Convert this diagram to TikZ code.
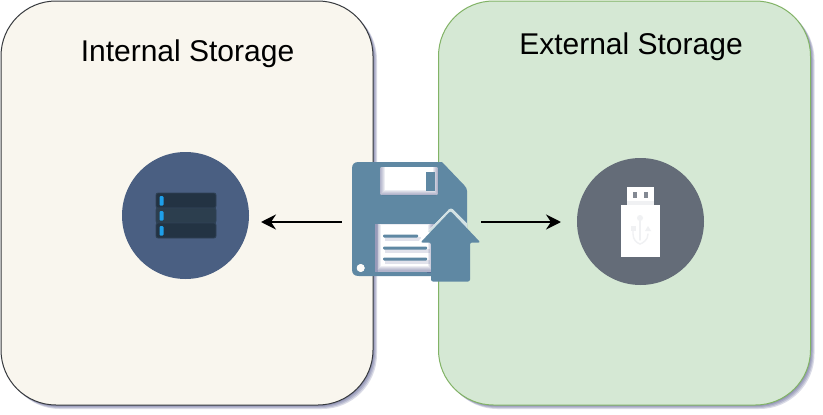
\documentclass[tikz,border=0pt]{standalone}
\usepackage{fontspec}
\setmainfont{Liberation Sans}
\usetikzlibrary{arrows.meta}
\definecolor{creamfill}{HTML}{F9F6EE}
\definecolor{creamline}{HTML}{36393D}
\definecolor{greenfill}{HTML}{D5E8D4}
\definecolor{greenline}{HTML}{82B366}
\definecolor{floppyblue}{HTML}{5F88A3}
\definecolor{halo}{HTML}{D3E2E4}
\definecolor{shadowtint}{HTML}{4A4F86}
\definecolor{servercircle}{HTML}{4A5F82}
\definecolor{usbcircle}{HTML}{646C78}
\definecolor{rackdark}{HTML}{233343}
\definecolor{rackmid}{HTML}{2C3E4E}
\definecolor{rackedge}{HTML}{2F4155}
\definecolor{ledblue}{HTML}{1E9FEA}
\definecolor{usbghost}{HTML}{F0F1F3}
\tikzset{
  panel/.style={rectangle,rounded corners=55pt,inner sep=0pt,minimum width=372pt,minimum height=404pt,line width=1pt},
  panelshadow/.style={rectangle,rounded corners=55pt,inner sep=0pt,minimum width=372pt,minimum height=404pt,fill=shadowtint,fill opacity=0.2},
  paneltitle/.style={font=\fontsize{30}{34}\selectfont,text=black,inner sep=0pt},
  iconcircle/.style={circle,inner sep=0pt,minimum size=127pt},
  connector/.style={line width=2.4pt,black,-{Stealth[length=15pt,width=15pt,inset=5pt]}},
  holeshade/.style={draw=shadowtint,draw opacity=0.1,fill=none},
  rackrow/.style={rounded corners=2pt,draw=rackedge,line width=0.8pt},
  usbline/.style={draw=usbghost,line width=1.4pt,line cap=round},
}
\newcommand{\floppyoutline}{
  (359,162) -- (442,162) -- (464,185)
  .. controls (466,187) and (467,189) .. (467,191) -- (467,269)
  .. controls (467,274) and (465,276) .. (460,276) -- (359,276)
  .. controls (354,276) and (352,274) .. (352,269) -- (352,169)
  .. controls (352,164) and (354,162) .. (359,162) -- cycle
}
\newcommand{\windowhole}{(380,167) [rounded corners=2pt] rectangle (438,195)}
\newcommand{\paperhole}{(375,224) rectangle (434,272)}
\begin{document}
\begin{tikzpicture}[x=1pt,y=-1pt]
\useasboundingbox (0,0) rectangle (823,415);
\fill[white] (0,0) rectangle (823,415);
% panel shadows
\foreach \d in {1,2,3,4}{
  \node[panelshadow] at (187+\d,203+\d) {};
  \node[panelshadow] at (624.5+\d,203+\d) {};
}
\node[panel,draw=creamline,fill=creamfill] (internal) at (187,203) {};
\node[panel,draw=greenline,fill=greenfill] (external) at (624.5,203) {};
\node[paneltitle] (internalTitle) at (187.5,54) {Internal Storage};
\node[paneltitle] (externalTitle) at (631,46.5) {External Storage};
% server icon
\node[iconcircle,fill=servercircle] (serverIcon) at (185.5,215.5) {};
\draw[rackrow,fill=rackdark] (156,193) rectangle (216,208);
\draw[rackrow,fill=rackmid] (156,208) rectangle (216,223);
\draw[rackrow,fill=rackdark] (156,223) rectangle (216,238);
\fill[ledblue,rounded corners=1pt] (159.5,196) rectangle (163.5,205.5);
\fill[ledblue,rounded corners=1pt] (159.5,211) rectangle (163.5,220.5);
\fill[ledblue,rounded corners=1pt] (159.5,226) rectangle (163.5,235.5);
% usb icon
\node[iconcircle,fill=usbcircle] (usbIcon) at (640.5,221.5) {};
\fill[white] (627,187) rectangle (654,205);
\fill[usbghost] (627,201) rectangle (654,205);
\fill[usbcircle!80] (633,191.5) rectangle (637,197.5);
\fill[usbcircle!80] (644,191.5) rectangle (648,197.5);
\fill[white] (621,205) rectangle (660,257);
\draw[usbline] (640,220) -- (640,240);
\draw[usbline] (633,228) -- (633,234) .. controls (633,240) and (637,243) .. (640,244);
\draw[usbline] (648,234) .. controls (648,240) and (643,243) .. (640,244);
\fill[usbghost] (640,218) circle (3);
\fill[usbghost] (630.5,226) rectangle (635.5,231);
\fill[usbghost] (645,231) -- (651,231) -- (648,226) -- cycle;
% floppy body with holes
\fill[floppyblue,even odd rule] \floppyoutline \windowhole \paperhole (360.7,268) circle (4);
\begin{scope}
  \clip[rounded corners=2pt] (380,167) rectangle (438,195);
  \fill[white] (380,167) rectangle (438,195);
  \foreach \w in {10,8,6,4,2}{
    \draw[holeshade,line width=\w pt] (380,162) rectangle (438,195);
  }
\end{scope}
\begin{scope}
  \clip (375,224) rectangle (434,272);
  \fill[white] (375,224) rectangle (434,272);
  \foreach \w in {12,10,8,6,4}{
    \draw[holeshade,line width=\w pt] (375,219) rectangle (434,272);
  }
  \fill[shadowtint,opacity=0.25] (375,224) rectangle (378,272);
\end{scope}
\fill[white!70!creamfill] (360.7,268) circle (4);
\fill[floppyblue] (426,172) rectangle (435,191);
\foreach \y/\e in {236/418,248/427,259/427}{
  \fill[shadowtint,opacity=0.16] (385,\y+0.5) rectangle (\e+3,\y+5);
  \fill[floppyblue,rounded corners=1pt] (383,\y-1.5) rectangle (\e,\y+1.5);
}
\fill[floppyblue] (375,272) rectangle (427,276);
% upload arrow
\draw[white,line width=5pt,line join=round] (421,242) -- (451,211);
\begin{scope}
  \clip (352,162) rectangle (467,232);
  \draw[halo,line width=5pt,line join=round] (430,233) -- (451,211) -- (473,233);
\end{scope}
\fill[floppyblue,rounded corners=2pt] (450.5,211) -- (480.5,242.5) -- (470,242.5) -- (470,281.5) -- (431,281.5) -- (431,242.5) -- (420.5,242.5) -- cycle;
\node[inner sep=0pt,minimum width=139pt,minimum height=120pt] (floppy) at (411.5,222) {};
% connectors
\coordinate (serverEnd) at (261,222);
\coordinate (usbEnd) at (561,222);
\draw[connector] (floppy.west) -- (serverEnd);
\draw[connector] (floppy.east) -- (usbEnd);
\end{tikzpicture}
\end{document}
